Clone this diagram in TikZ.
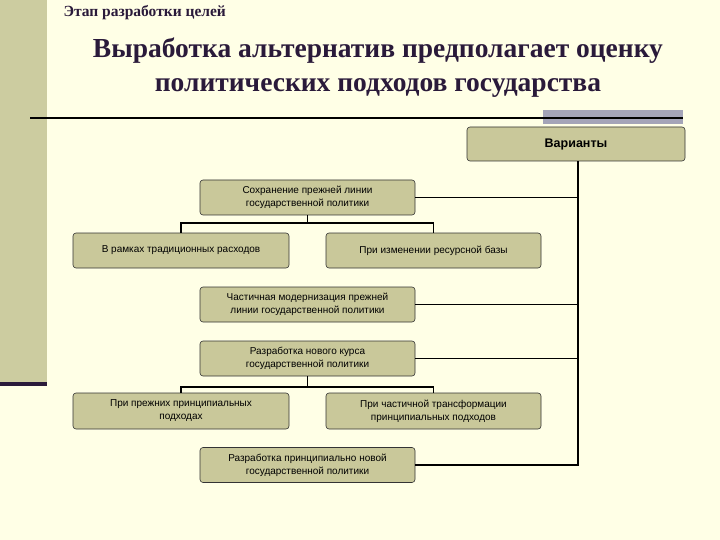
\documentclass[tikz,border=0pt]{standalone}
\usepackage{fontspec}
\setmainfont{Liberation Serif}
\newfontfamily\boxfont{Liberation Sans}
\definecolor{bg}{HTML}{FFFFE6}
\definecolor{bar}{HTML}{CCCCA0}
\definecolor{boxfill}{HTML}{C9C89A}
\definecolor{ttl}{HTML}{2A1A3A}
\definecolor{grayb}{HTML}{A4A4B8}
\begin{document}
\begin{tikzpicture}[x=1pt,y=-1pt,
  bx/.style={draw=black!80,fill=boxfill,rounded corners=3pt,line width=0.6pt,minimum width=215pt,minimum height=35pt,align=center,font=\boxfont\fontsize{10}{13}\selectfont,inner sep=1pt},
  ln/.style={line width=1.8pt}]
\useasboundingbox (0,0) rectangle (720,540);
\fill[bg] (0,0) rectangle (720,540);
\fill[bar] (0,0) rectangle (47,382);
\fill[ttl] (0,382) rectangle (47,386);
\fill[grayb] (543,110) rectangle (683,124);
\draw[line width=1.2pt] (30,118) -- (683,118);
\node[anchor=west,font=\bfseries\fontsize{15.5}{18}\selectfont,text=ttl] (t1) at (60,13) {Этап разработки целей};
\node[align=center,font=\bfseries\fontsize{27.5}{34}\selectfont,text=ttl] (t2) at (378,68) {Выработка альтернатив предполагает оценку\\политических подходов государства};
\node[bx,minimum width=218pt,minimum height=34pt,font=\boxfont\fontsize{12.5}{14}\selectfont\bfseries] (v) at (576,144) {Варианты};
\node[bx] (a) at (307.5,197.5) {Сохранение прежней линии\\государственной политики};
\node[bx,minimum width=216pt] (a1) at (181,250.5) {В рамках традиционных расходов};
\node[bx] (a2) at (433.5,250.5) {При изменении ресурсной базы};
\node[bx] (b) at (307.5,304.5) {Частичная модернизация прежней\\линии государственной политики};
\node[bx] (c) at (307.5,358.5) {Разработка нового курса\\государственной политики};
\node[bx,minimum width=216pt,minimum height=36pt] (c1) at (181,411) {При прежних принципиальных\\подходах};
\node[bx,minimum height=36pt] (c2) at (433.5,411) {При частичной трансформации\\принципиальных подходов};
\node[bx] (d) at (307.5,465) {Разработка принципиально новой\\государственной политики};
\coordinate (tb) at (578,465);
\draw[ln] (v.south -| tb) -- (tb) -- (d.east);
\draw[ln] (a.east) -- (a.east -| tb);
\draw[ln] (b.east) -- (b.east -| tb);
\draw[ln] (c.east) -- (c.east -| tb);
\draw[ln] (a.south) -- ++(0,8) -| (a1.north);
\draw[ln] (a.south) ++(0,8) -| (a2.north);
\draw[ln] (c.south) -- ++(0,11) -| (c1.north);
\draw[ln] (c.south) ++(0,11) -| (c2.north);
\end{tikzpicture}
\end{document}
